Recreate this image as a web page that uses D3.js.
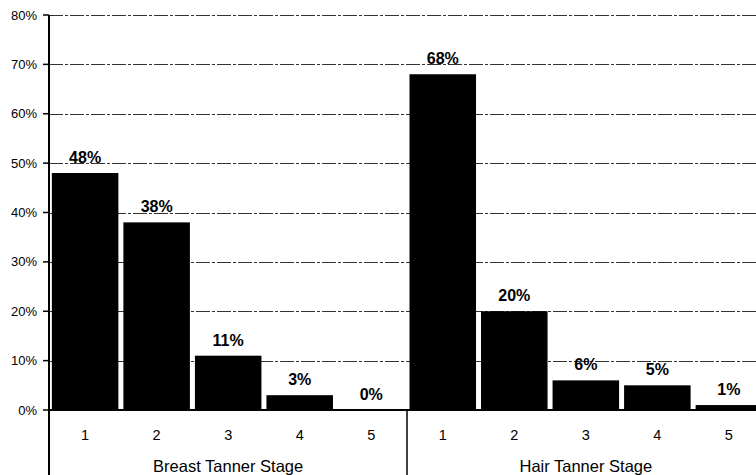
<!DOCTYPE html>
<html>
<head>
<meta charset="utf-8">
<script src="https://cdn.jsdelivr.net/npm/d3@7"></script>
<style>
	body { margin: 0; background: #fff; }
	svg { display: block; font-family: "Liberation Sans", Arial, sans-serif; }
	.grid line { stroke: #333; stroke-width: 1; stroke-dasharray: 14, 2, 3, 2; }
	.y-label { font-size: 13px; fill: #000; }
	.bar-label { font-size: 16px; font-weight: bold; fill: #000; }
	.cat-label { font-size: 14.5px; fill: #000; }
	.group-label { font-size: 16.5px; fill: #000; }
</style>
</head>
<body>
<svg id="chart"></svg>
<script>
const WIDTH = 756;
const HEIGHT = 475;

const groups = ["Breast Tanner Stage", "Hair Tanner Stage"];
const stages = ["1", "2", "3", "4", "5"];
const breastValues = [48, 38, 11, 3, 0];
const hairValues = [68, 20, 6, 5, 1];
const yTicks = [0, 10, 20, 30, 40, 50, 60, 70, 80];

const svg = d3.select("#chart").attr("width", WIDTH).attr("height", HEIGHT);

const plotLeft = 49;
const plotRight = 765; // plot runs past the window edge, like the reference
const plotTop = 15;
const plotBottom = 410;

const bars = [
	...breastValues.map((v, i) => ({ group: groups[0], stage: stages[i], value: v })),
	...hairValues.map((v, i) => ({ group: groups[1], stage: stages[i], value: v })),
];
bars.forEach(d => (d.key = d.group + "-" + d.stage));

const x = d3.scaleBand()
	.domain(bars.map(d => d.key))
	.range([plotLeft, plotRight])
	.paddingInner(0.07)
	.paddingOuter(0.04);
const y = d3.scaleLinear([0, 80], [plotBottom, plotTop]);

// gridlines
svg.append("g")
	.attr("class", "grid")
	.selectAll("line")
	.data(yTicks.filter(t => t > 0))
	.join("line")
	.attr("x1", plotLeft)
	.attr("x2", WIDTH)
	.attr("y1", d => Math.round(y(d)) + 0.5)
	.attr("y2", d => Math.round(y(d)) + 0.5);

// bars
svg.append("g")
	.selectAll("rect")
	.data(bars)
	.join("rect")
	.attr("x", d => x(d.key))
	.attr("width", x.bandwidth())
	.attr("y", d => y(d.value))
	.attr("height", d => y(0) - y(d.value))
	.attr("fill", "#000");

// value labels
svg.append("g")
	.selectAll("text")
	.data(bars)
	.join("text")
	.attr("class", "bar-label")
	.attr("x", d => x(d.key) + x.bandwidth() / 2)
	.attr("y", d => y(d.value) - 10)
	.attr("text-anchor", "middle")
	.text(d => d.value + "%");

// y axis
const yAxis = svg.append("g").attr("transform", `translate(${plotLeft},0)`);
yAxis.append("line")
	.attr("x1", 0).attr("x2", 0)
	.attr("y1", plotTop).attr("y2", HEIGHT)
	.attr("stroke", "#000").attr("stroke-width", 2);
yAxis.selectAll(".tick")
	.data(yTicks)
	.join("line")
	.attr("class", "tick")
	.attr("x1", -6).attr("x2", 0)
	.attr("y1", d => y(d)).attr("y2", d => y(d))
	.attr("stroke", "#000").attr("stroke-width", 1.5);
yAxis.selectAll(".y-label")
	.data(yTicks)
	.join("text")
	.attr("class", "y-label")
	.attr("x", -12)
	.attr("y", d => y(d))
	.attr("dy", "0.35em")
	.attr("text-anchor", "end")
	.text(d => d + "%");

// x axis line
svg.append("line")
	.attr("x1", plotLeft).attr("x2", WIDTH)
	.attr("y1", plotBottom).attr("y2", plotBottom)
	.attr("stroke", "#000").attr("stroke-width", 2);

// category labels
svg.append("g")
	.selectAll("text")
	.data(bars)
	.join("text")
	.attr("class", "cat-label")
	.attr("x", d => x(d.key) + x.bandwidth() / 2)
	.attr("y", 440)
	.attr("text-anchor", "middle")
	.text(d => d.stage);

// group dividers and labels
const groupSpans = groups.map(g => {
	const keys = bars.filter(d => d.group === g).map(d => d.key);
	const half = (x.step() - x.bandwidth()) / 2;
	const x0 = x(keys[0]) - half;
	const x1 = x(keys[keys.length - 1]) + x.bandwidth() + half;
	return { group: g, x0, x1 };
});

svg.append("line")
	.attr("x1", groupSpans[0].x1).attr("x2", groupSpans[0].x1)
	.attr("y1", plotBottom).attr("y2", HEIGHT)
	.attr("stroke", "#000").attr("stroke-width", 1.5);

svg.append("g")
	.selectAll("text")
	.data(groupSpans)
	.join("text")
	.attr("class", "group-label")
	.attr("x", d => (d.x0 + d.x1) / 2)
	.attr("y", 472)
	.attr("text-anchor", "middle")
	.text(d => d.group);
</script>
</body>
</html>
